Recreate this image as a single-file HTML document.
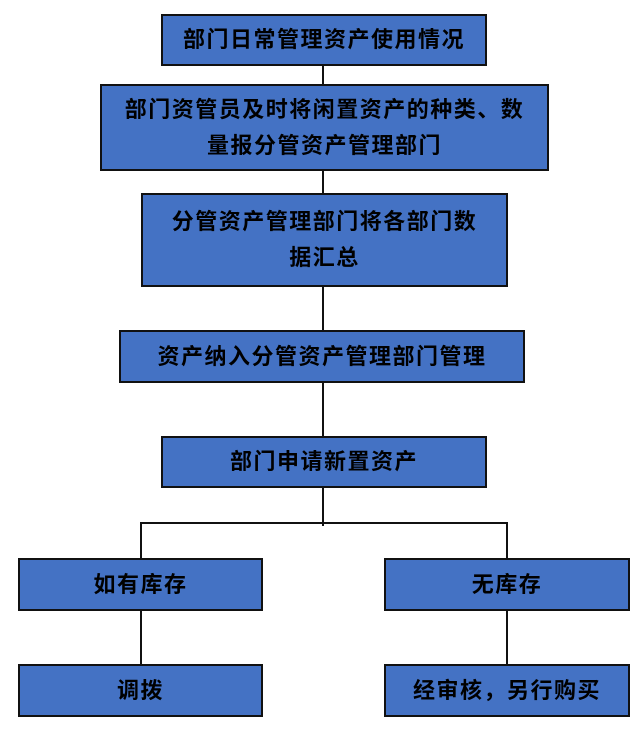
<!DOCTYPE html>
<html><head><meta charset="utf-8"><style>
body{margin:0;width:640px;height:735px;background:#fff;position:relative;overflow:hidden;font-family:"Liberation Sans","Noto Sans CJK SC",sans-serif;}
.b{position:absolute;box-sizing:border-box;background:#4472C4;border:2px solid #111;display:flex;align-items:center;justify-content:center;text-align:center;font-weight:bold;font-size:22px;letter-spacing:1.5px;color:#000;line-height:36px;white-space:nowrap;}
.l{position:absolute;background:#111;}
</style></head><body>
<div class="l" style="left:322px;top:66px;width:2px;height:460px"></div>
<div class="l" style="left:140px;top:522px;width:368px;height:2px"></div>
<div class="l" style="left:140px;top:522px;width:2px;height:150px"></div>
<div class="l" style="left:506px;top:522px;width:2px;height:150px"></div>
<div class="b" style="left:161px;top:14px;width:326px;height:52px">部门日常管理资产使用情况</div>
<div class="b" style="left:100px;top:84px;width:449px;height:87px">部门资管员及时将闲置资产的种类、数<br>量报分管资产管理部门</div>
<div class="b" style="left:141px;top:193px;width:367px;height:94px">分管资产管理部门将各部门数<br>据汇总</div>
<div class="b" style="left:119px;top:330px;width:406px;height:53px">资产纳入分管资产管理部门管理</div>
<div class="b" style="left:161px;top:436px;width:326px;height:52px">部门申请新置资产</div>
<div class="b" style="left:18px;top:558px;width:245px;height:53px">如有库存</div>
<div class="b" style="left:384px;top:558px;width:246px;height:53px">无库存</div>
<div class="b" style="left:18px;top:664px;width:245px;height:53px">调拨</div>
<div class="b" style="left:384px;top:664px;width:246px;height:53px">经审核，另行购买</div>
</body></html>
